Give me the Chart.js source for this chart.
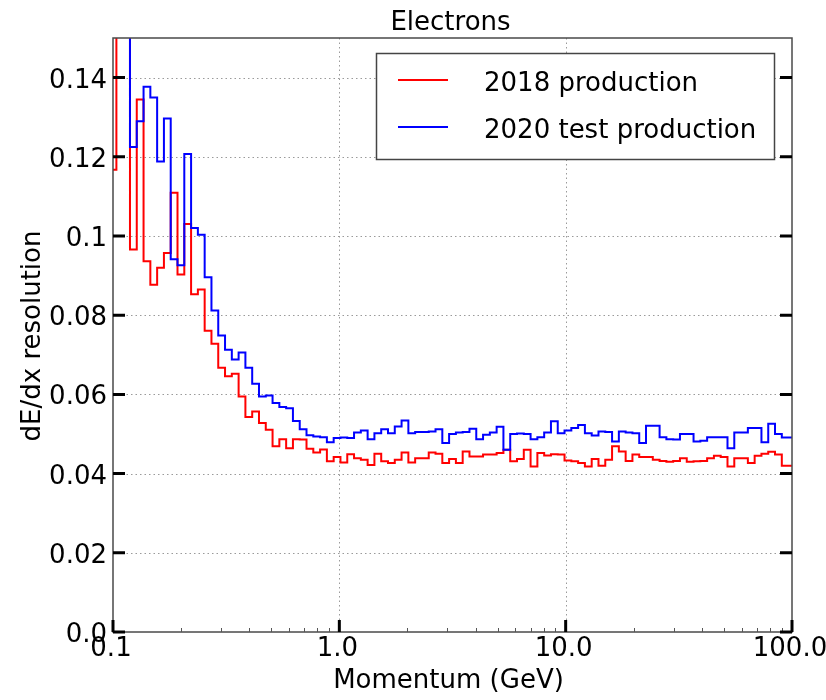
<!DOCTYPE html>
<html>
<head>
<meta charset="utf-8">
<title>Electrons - dE/dx resolution</title>
<script src="https://cdn.jsdelivr.net/npm/chart.js@4.4.1/dist/chart.umd.min.js"></script>
<style>
  html, body { margin: 0; padding: 0; background: #fff; }
  #plot { display: block; }
</style>
</head>
<body>
<canvas id="plot" width="826" height="700"></canvas>
<script>
// binning: bin centres evenly spaced in log10(p), first centre at 0.1 GeV
const LOG_FIRST_CENTER = -1;
const LOG_BIN_WIDTH = 0.03;

// dE/dx resolution per momentum bin
const prod2018 = [
  0.1167, 0.165, 0.160, 0.0966, 0.1345, 0.0936, 0.0877, 0.0920, 0.0957, 0.1109,
  0.0903, 0.1030, 0.0853, 0.0865, 0.0761, 0.0728, 0.0667, 0.0646, 0.0652, 0.0595,
  0.0543, 0.0557, 0.0528, 0.0511, 0.0469, 0.0487, 0.0464, 0.0487, 0.0486, 0.0463,
  0.0453, 0.0461, 0.0431, 0.0442, 0.0428, 0.0449, 0.0439, 0.0435, 0.0422, 0.0450,
  0.0431, 0.0427, 0.0435, 0.0453, 0.0428, 0.0439, 0.0439, 0.0453, 0.0450, 0.0427,
  0.0437, 0.0427, 0.0456, 0.0443, 0.0443, 0.0448, 0.0448, 0.0452, 0.0460, 0.0431,
  0.0437, 0.0460, 0.0418, 0.0452, 0.0446, 0.0449, 0.0448, 0.0433, 0.0431, 0.0427,
  0.0418, 0.0437, 0.0420, 0.0435, 0.0469, 0.0456, 0.0432, 0.0448, 0.0442, 0.0442,
  0.0435, 0.0432, 0.0430, 0.0432, 0.0439, 0.0430, 0.0431, 0.0432, 0.0439, 0.0445,
  0.0442, 0.0418, 0.0439, 0.0439, 0.0427, 0.0445, 0.0450, 0.0455, 0.0448, 0.0420,
  0.0420
];
const test2020 = [
  0.170, 0.170, 0.170, 0.1225, 0.1290, 0.1377, 0.1350, 0.1188, 0.1297, 0.0941,
  0.0926, 0.1207, 0.1020, 0.1003, 0.0896, 0.0812, 0.0749, 0.0713, 0.0688, 0.0706,
  0.0667, 0.0627, 0.0595, 0.0597, 0.0578, 0.0568, 0.0565, 0.0533, 0.0512, 0.0497,
  0.0494, 0.0492, 0.0479, 0.0490, 0.0491, 0.0490, 0.0504, 0.0509, 0.0487, 0.0502,
  0.0512, 0.0502, 0.0519, 0.0534, 0.0502, 0.0505, 0.0505, 0.0506, 0.0512, 0.0477,
  0.0500, 0.0504, 0.0505, 0.0513, 0.0487, 0.0498, 0.0504, 0.0518, 0.0460, 0.0500,
  0.0501, 0.0500, 0.0487, 0.0492, 0.0504, 0.0532, 0.0502, 0.0509, 0.0515, 0.0523,
  0.0502, 0.0496, 0.0506, 0.0505, 0.0481, 0.0506, 0.0504, 0.0502, 0.0477, 0.0521,
  0.0521, 0.0492, 0.0487, 0.0486, 0.0500, 0.0500, 0.0481, 0.0483, 0.0492, 0.0492,
  0.0492, 0.0464, 0.0504, 0.0504, 0.0515, 0.0515, 0.0479, 0.0526, 0.0500, 0.0491,
  0.0491
];

const xTicks = [0.1, 1, 10, 100];
const xTickLabels = ["0.1", "1.0", "10.0", "100.0"];
const xMinorTicks = [0.2, 0.3, 0.4, 0.5, 0.6, 0.7, 0.8, 0.9,
                     2, 3, 4, 5, 6, 7, 8, 9,
                     20, 30, 40, 50, 60, 70, 80, 90];
const yTicks = [0, 0.02, 0.04, 0.06, 0.08, 0.1, 0.12, 0.14];
const yTickLabels = ["0.0", "0.02", "0.04", "0.06", "0.08", "0.1", "0.12", "0.14"];

const FONT = '"DejaVu Sans", sans-serif';

function binEdge(i) {
  return Math.pow(10, LOG_FIRST_CENTER + LOG_BIN_WIDTH * (i - 0.5));
}

// one point per left bin edge, plus the closing right edge
function stepPoints(values) {
  const pts = values.map((v, i) => ({ x: binEdge(i), y: v }));
  pts.push({ x: binEdge(values.length), y: values[values.length - 1] });
  return pts;
}

const axesPlugin = {
  id: "axesPlugin",
  beforeDatasetsDraw(chart) {
    const { ctx, chartArea: a, scales: { x, y } } = chart;
    ctx.save();
    ctx.strokeStyle = "#9a9a9a";
    ctx.lineWidth = 1;
    ctx.setLineDash([1.5, 3]);
    yTicks.forEach(v => {
      if (v === 0) return;
      const py = Math.round(y.getPixelForValue(v)) + 0.5;
      ctx.beginPath();
      ctx.moveTo(a.left, py);
      ctx.lineTo(a.right, py);
      ctx.stroke();
    });
    xTicks.forEach(v => {
      if (v === 0.1 || v === 100) return;
      const px = Math.round(x.getPixelForValue(v)) + 0.5;
      ctx.beginPath();
      ctx.moveTo(px, a.top);
      ctx.lineTo(px, a.bottom);
      ctx.stroke();
    });
    ctx.restore();
  },
  afterDatasetsDraw(chart) {
    const { ctx, chartArea: a, scales: { x, y } } = chart;
    ctx.save();

    // frame
    ctx.strokeStyle = "#4a4a4a";
    ctx.lineWidth = 1.5;
    ctx.strokeRect(a.left, a.top, a.right - a.left, a.bottom - a.top);

    // minor x ticks
    ctx.strokeStyle = "#555";
    ctx.lineWidth = 1;
    xMinorTicks.forEach(v => {
      const px = Math.round(x.getPixelForValue(v)) + 0.5;
      ctx.beginPath();
      ctx.moveTo(px, a.bottom);
      ctx.lineTo(px, a.bottom - 4);
      ctx.stroke();
    });

    // major ticks, pointing inward
    ctx.strokeStyle = "#000";
    ctx.lineWidth = 3;
    yTicks.forEach(v => {
      const py = y.getPixelForValue(v);
      ctx.beginPath();
      ctx.moveTo(a.left, py);
      ctx.lineTo(a.left + 12, py);
      ctx.moveTo(a.right, py);
      ctx.lineTo(a.right - 12, py);
      ctx.stroke();
    });
    xTicks.forEach(v => {
      const px = x.getPixelForValue(v);
      ctx.beginPath();
      ctx.moveTo(px, a.bottom);
      ctx.lineTo(px, a.bottom - 12);
      ctx.stroke();
    });

    // tick labels
    ctx.fillStyle = "#000";
    ctx.font = "26px " + FONT;
    ctx.textBaseline = "alphabetic";
    ctx.textAlign = "right";
    yTicks.forEach((v, i) => {
      ctx.fillText(yTickLabels[i], a.left - 6, y.getPixelForValue(v) + 10);
    });
    ctx.textAlign = "center";
    xTicks.forEach((v, i) => {
      ctx.fillText(xTickLabels[i], x.getPixelForValue(v) - 2, a.bottom + 24);
    });

    // titles
    const cx = (a.left + a.right) / 2;
    ctx.font = "26px " + FONT;
    ctx.fillText("Electrons", cx - 2, 30);
    ctx.fillText("Momentum (GeV)", cx - 4, 688);
    ctx.save();
    ctx.translate(40, 336);
    ctx.rotate(-Math.PI / 2);
    ctx.fillText("dE/dx resolution", 0, 0);
    ctx.restore();

    // legend
    const lx = 376.5, ly = 53.5, lw = 398, lh = 106;
    ctx.fillStyle = "#fff";
    ctx.fillRect(lx, ly, lw, lh);
    ctx.strokeStyle = "#444";
    ctx.lineWidth = 1.5;
    ctx.strokeRect(lx, ly, lw, lh);
    const entries = chart.data.datasets.slice().sort((p, q) => q.order - p.order);
    entries.forEach((ds, i) => {
      const ey = 80 + i * 47;
      ctx.strokeStyle = ds.borderColor;
      ctx.lineWidth = 2;
      ctx.beginPath();
      ctx.moveTo(398, ey);
      ctx.lineTo(448, ey);
      ctx.stroke();
      ctx.fillStyle = "#000";
      ctx.textAlign = "left";
      ctx.fillText(ds.label, 484, ey + 11);
    });

    ctx.restore();
  }
};

new Chart(document.getElementById("plot"), {
  type: "line",
  data: {
    datasets: [
      {
        label: "2020 test production",
        data: stepPoints(test2020),
        borderColor: "#0000ff",
        order: 1
      },
      {
        label: "2018 production",
        data: stepPoints(prod2018),
        borderColor: "#ff0000",
        order: 2
      }
    ]
  },
  options: {
    responsive: false,
    animation: false,
    devicePixelRatio: 1,
    layout: { padding: { left: 113, right: 34, top: 38, bottom: 68 } },
    elements: {
      line: { borderWidth: 2, stepped: true, tension: 0, fill: false },
      point: { radius: 0 }
    },
    scales: {
      x: { type: "logarithmic", min: 0.1, max: 100, display: false },
      y: { type: "linear", min: 0, max: 0.15, display: false }
    },
    plugins: {
      legend: { display: false },
      tooltip: { enabled: false }
    }
  },
  plugins: [axesPlugin]
});
</script>
</body>
</html>
